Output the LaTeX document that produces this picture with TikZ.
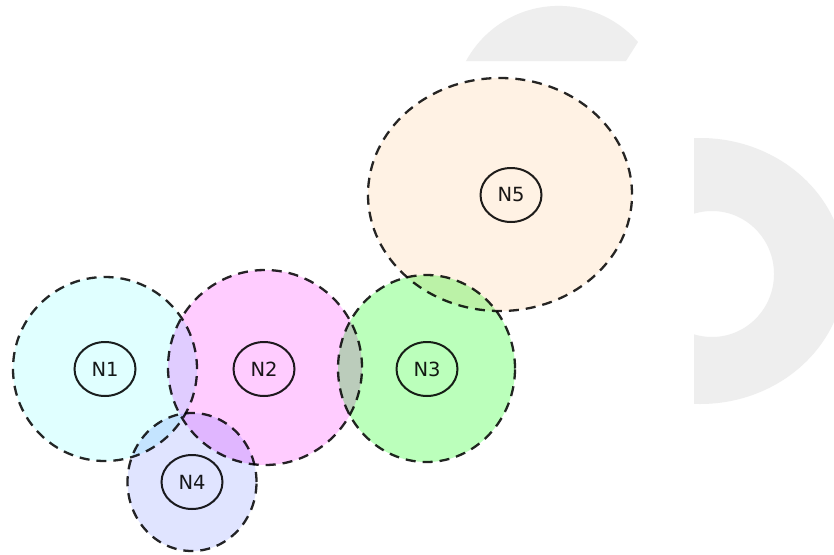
\documentclass[tikz,border=0pt]{standalone}
\usepackage{fontspec}
\setmainfont{DejaVu Sans}
\usetikzlibrary{shapes.geometric}
\definecolor{zoneline}{RGB}{38,38,38}
\definecolor{lblline}{RGB}{30,30,30}
\definecolor{wm}{RGB}{238,238,238}
\definecolor{cA}{RGB}{224,255,255}
\definecolor{cB}{RGB}{255,204,255}
\definecolor{cC}{RGB}{187,255,187}
\definecolor{cD}{RGB}{224,228,255}
\definecolor{cE}{RGB}{255,242,228}
\begin{document}
\begin{tikzpicture}[x=1pt,y=-1pt,
  zone/.style={ellipse, inner sep=0pt, draw=zoneline, line width=2.3pt, dash pattern=on 10pt off 7pt},
  lbl/.style={ellipse, draw=lblline, line width=2pt, inner sep=0pt,
    minimum width=61pt, minimum height=54pt, text=black!90,
    font=\fontsize{19.5}{23}\selectfont}]
\useasboundingbox (0,0) rectangle (834,554);
\begin{scope}[blend group=multiply]
  \fill[white] (0,0) rectangle (834,554);
  % watermark shapes
  \begin{scope}
    \clip (440,0) -- (664.5,0) -- (626,61) -- (440,61) -- cycle;
    \fill[wm] (558.6,111.2) circle[radius=105.3];
  \end{scope}
  \begin{scope}
    \clip (694,100) rectangle (900,450);
    \fill[wm, even odd rule] (700,271) ellipse[x radius=145, y radius=133]
      (712,274) ellipse[x radius=62, y radius=63];
  \end{scope}
  % zones
  \node[zone, fill=cA, minimum width=184pt, minimum height=184pt] (z1) at (105,369) {};
  \node[zone, fill=cB, minimum width=194pt, minimum height=195pt] (z2) at (265,367.5) {};
  \node[zone, fill=cC, minimum width=177pt, minimum height=187pt] (z3) at (426.5,368.5) {};
  \node[zone, fill=cD, minimum width=129pt, minimum height=138pt] (z4) at (192,482) {};
  \node[zone, fill=cE, minimum width=264pt, minimum height=233pt] (z5) at (500,194.5) {};
  % labels
  \node[lbl] (n1) at (105,369) {N1};
  \node[lbl] (n2) at (264,369) {N2};
  \node[lbl] (n3) at (427,369) {N3};
  \node[lbl] (n4) at (192,482) {N4};
  \node[lbl] (n5) at (511,195) {N5};
\end{scope}
\end{tikzpicture}
\end{document}
